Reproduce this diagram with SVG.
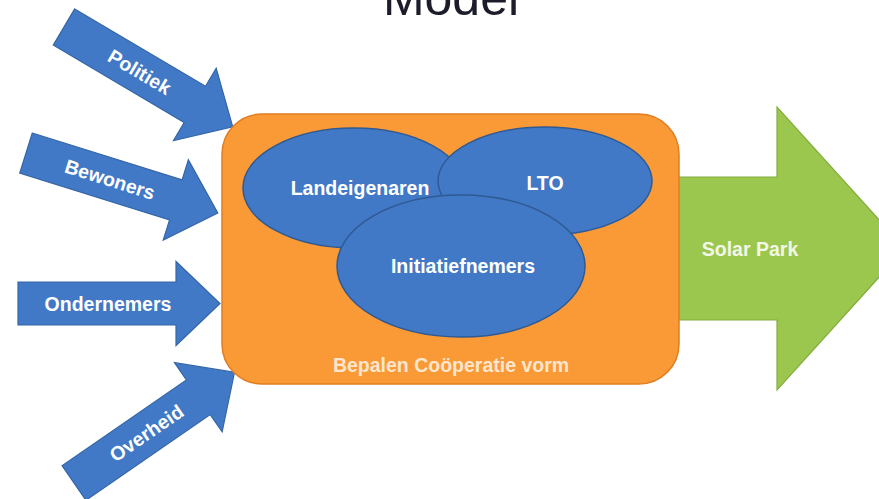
<svg xmlns="http://www.w3.org/2000/svg" width="879" height="499" viewBox="0 0 879 499">
<style>
.t{font-family:"Liberation Sans",Arial,sans-serif;font-weight:bold;font-size:19.5px;text-anchor:middle}
.w{fill:#ffffff}
.inarrow{fill:#4179c6;stroke:#3566a8;stroke-width:1.2}
.ell{fill:#4179c6;stroke:#2f5a94;stroke-width:1.5}
</style>
<defs>
<polygon id="arr196" points="0,-21 152,-21 152,-42 196,0 152,42 152,21 0,21"/>
<polygon id="arr201" points="0,-21 157,-21 157,-42 201,0 157,42 157,21 0,21"/>
<polygon id="arr202" points="0,-21.5 158,-21.5 158,-42 202,0 158,42 158,21.5 0,21.5"/>
<polygon id="arr195" points="0,-21 151,-21 151,-42 195,0 151,42 151,21 0,21"/>
</defs>
<rect width="879" height="499" fill="#ffffff"/>
<text x="451" y="15" font-family="'Liberation Sans',Arial,sans-serif" font-size="50" fill="#1c1c2a" text-anchor="middle">Model</text>
<g id="connectors">
<g id="politiek" transform="translate(64,27) rotate(30.6)">
<use href="#arr196" class="inarrow"/>
<text class="t w" x="88" y="7">Politiek</text>
</g>
<g id="bewoners" transform="translate(26,153) rotate(17.4)">
<use href="#arr201" class="inarrow"/>
<text class="t w" x="88" y="7">Bewoners</text>
</g>
<g id="ondernemers" transform="translate(18,303.5)">
<use href="#arr202" class="inarrow"/>
<text class="t w" x="90" y="7">Ondernemers</text>
</g>
<g id="overheid" transform="translate(74,483) rotate(-34.6)">
<use href="#arr195" class="inarrow"/>
<text class="t w" x="88" y="7">Overheid</text>
</g>
</g>
<g id="solarpark">
<polygon points="640,177 777,177 777,107 905,248.5 777,390 777,320 640,320" fill="#9cc74f" stroke="#84ad3e" stroke-width="1.2"/>
<text class="t" x="750" y="256" fill="#f2f7e6">Solar Park</text>
</g>
<g id="cooperatie">
<rect x="222" y="114" width="457" height="270" rx="40" ry="40" fill="#f99a36" stroke="#e07d22" stroke-width="1.5"/>
<text class="t" x="451" y="372" fill="#fde6cd">Bepalen Coöperatie vorm</text>
</g>
<g id="landeigenaren">
<ellipse cx="354" cy="188" rx="111" ry="60" class="ell"/>
<text class="t w" x="360" y="195">Landeigenaren</text>
</g>
<g id="lto">
<ellipse cx="545" cy="181" rx="107" ry="54" class="ell"/>
<text class="t w" x="545" y="190">LTO</text>
</g>
<g id="initiatiefnemers">
<ellipse cx="461" cy="266" rx="124" ry="71" class="ell"/>
<text class="t w" x="463" y="273">Initiatiefnemers</text>
</g>
</svg>
